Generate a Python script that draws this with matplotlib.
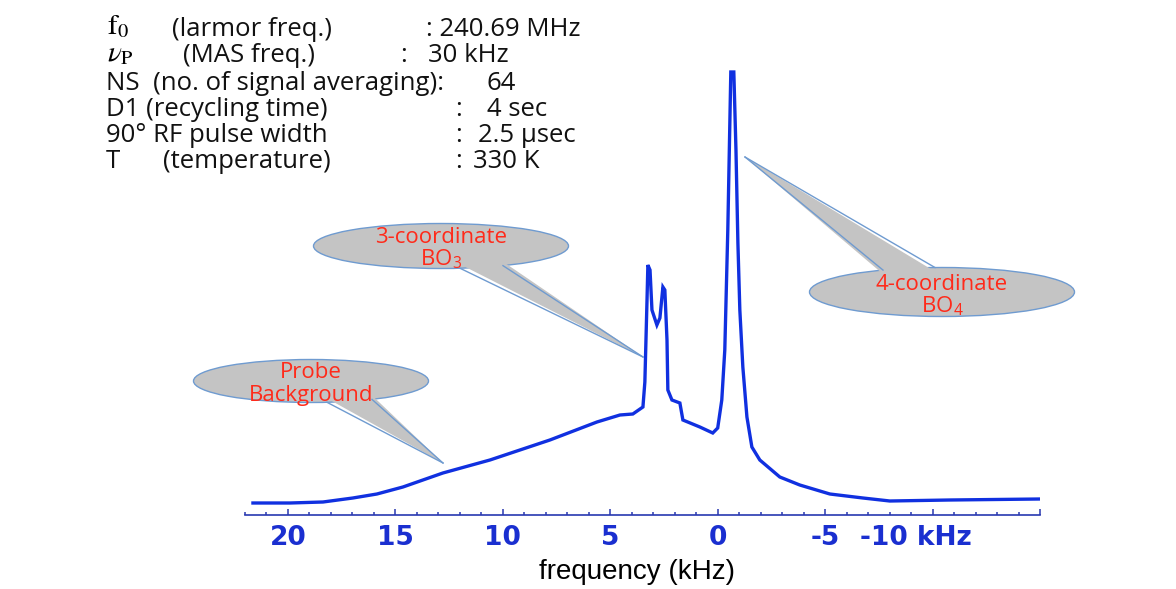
import numpy as np
import matplotlib
matplotlib.use("Agg")
import matplotlib.pyplot as plt
from matplotlib.patches import Ellipse, Polygon
from matplotlib.transforms import ScaledTranslation

plt.rcParams["font.family"] = ["Open Sans", "DejaVu Sans"]
plt.rcParams["mathtext.fontset"] = "stix"

# spectrum (kHz, arbitrary intensity)
freq_khz = [21.63, 19.91, 18.37, 16.98, 15.86, 14.65, 12.79, 10.60, 7.81, 5.62, 4.55,
            3.95, 3.48, 3.39, 3.29, 3.25, 3.15, 3.06, 2.83, 2.69, 2.55,
            2.46, 2.36, 2.32, 2.13, 1.76, 1.62, 0.83, 0.23, 0.0, -0.19,
            -0.33, -0.47, -0.61, -0.75, -0.85, -0.94, -1.03, -1.17, -1.36, -1.59,
            -1.96, -2.89, -3.82, -5.22, -6.76, -8.01, -10.8, -15.0]
intensity = [12, 12, 13, 17, 21, 28, 42, 55, 75, 93, 100,
             101, 108, 133, 215, 250, 245, 205, 190, 197, 228,
             225, 175, 125, 115, 112, 95, 88, 82, 87, 115,
             165, 285, 443, 443, 365, 272, 205, 148, 98, 68,
             55, 38, 30, 21, 17, 14, 15, 16]

major_ticks = [20, 15, 10, 5, 0, -5, -10, -15]
tick_labels = ["20", "15", "10", "5", "0", "-5", "", ""]
minor_ticks = list(range(22, -16, -1))

param_names = ["(larmor freq.)", "(MAS freq.)", "NS  (no. of signal averaging):",
               "D1 (recycling time)", "90° RF pulse width", "(temperature)"]
param_values = [": 240.69 MHz", "30 kHz", "64", "4 sec", "2.5 µsec", "330 K"]

W, H = 1176, 589
fig = plt.figure(figsize=(W / 100, H / 100), dpi=100)

ax = fig.add_axes([245 / W, 74 / H, 795 / W, 515 / H])
ax.plot(freq_khz, intensity, color="#1030e0", lw=2.4, solid_joinstyle="miter")
ax.set_xlim(22, -15)
ax.set_ylim(0, 515)
for s in ["left", "top", "right"]:
    ax.spines[s].set_visible(False)
ax.spines["bottom"].set_color("#2838b0")
ax.spines["bottom"].set_linewidth(1.2)
ax.set_yticks([])
ax.set_xticks(major_ticks)
ax.set_xticklabels(tick_labels)
ax.set_xticks(minor_ticks, minor=True)
ax.tick_params(axis="x", which="both", direction="in", color="#2838b0", width=1.1)
ax.tick_params(axis="x", which="major", length=4.5, pad=7,
               labelsize=19, labelcolor="#1a2fd0")
ax.tick_params(axis="x", which="minor", length=2.5)
tick_font = ["DejaVu Sans"]
for lbl in ax.get_xticklabels():
    lbl.set_fontweight("bold")
    lbl.set_family(tick_font)
ax.text(-6.6, 0, "-10 kHz",
        transform=ax.get_xaxis_transform() + ScaledTranslation(0, -7 / 72, fig.dpi_scale_trans),
        ha="left", va="top", fontsize=19, fontweight="bold", color="#1a2fd0",
        family=tick_font)
ax.patch.set_alpha(0)

# overlay in pixel coordinates for the header and the callouts
ov = fig.add_axes([0, 0, 1, 1])
ov.set_xlim(0, W)
ov.set_ylim(H, 0)
ov.axis("off")
ov.patch.set_alpha(0)

fig.text(637 / W, 1 - 572 / H, "frequency (kHz)", ha="center", va="center",
         fontsize=20, color="black", family=["Liberation Sans", "DejaVu Sans"])

row_y = [29, 56, 83, 109, 136, 162]
hdr = dict(fontsize=18.5, color="#111111", va="center", ha="left")
ov.text(107, row_y[0] - 2, r"$\mathrm{f}_0$", fontsize=21, va="center", ha="left")
ov.text(107, row_y[1] - 2, r"$\nu_\mathrm{P}$", fontsize=21, va="center", ha="left")
ov.text(172, row_y[0], param_names[0], **hdr)
ov.text(426, row_y[0], param_values[0], **hdr)
ov.text(183, row_y[1], param_names[1], **hdr)
ov.text(400, row_y[1], ":", **hdr)
ov.text(428, row_y[1], param_values[1], **hdr)
ov.text(106, row_y[2], param_names[2], **hdr)
ov.text(487, row_y[2], param_values[2], **hdr)
ov.text(106, row_y[3], param_names[3], **hdr)
ov.text(455, row_y[3], ":", **hdr)
ov.text(487, row_y[3], param_values[3], **hdr)
ov.text(106, row_y[4], param_names[4], **hdr)
ov.text(455, row_y[4], ":", **hdr)
ov.text(478, row_y[4], param_values[4], **hdr)
ov.text(106, row_y[5], "T", **hdr)
ov.text(163, row_y[5], param_names[5], **hdr)
ov.text(455, row_y[5], ":", **hdr)
ov.text(473, row_y[5], param_values[5], **hdr)


def callout(cx, cy, w, h, bx, tip, lines, dy=21, shift=3):
    fill, edge = "#c4c4c4", "#6f9bd0"
    ov.add_patch(Ellipse((cx, cy), w, h, fc=fill, ec=edge, lw=1.0, zorder=3))
    sign = 1 if tip[1] > cy else -1
    edge_pts, in_pts = [], []
    for x in bx:
        ye = cy + sign * (h / 2) * np.sqrt(1 - ((x - cx) / (w / 2)) ** 2)
        edge_pts.append((x, ye))
        in_pts.append((x, ye - sign * 4))
    ov.add_patch(Polygon([in_pts[0], tip, in_pts[1]], closed=True,
                         fc=fill, ec="none", zorder=4))
    for p in edge_pts:
        ov.plot([p[0], tip[0]], [p[1], tip[1]], color=edge, lw=1.0, zorder=4)
    y0 = cy + shift - dy / 2 * (len(lines) - 1)
    for i, t in enumerate(lines):
        ov.text(cx, y0 + i * dy, t, ha="center", va="center", fontsize=16,
                color="#ff2a1a", zorder=5)


callout(441, 246, 255, 45, [460, 503], (643, 357),
        ["3-coordinate", r"BO$_\mathregular{3}$"], shift=2)
callout(311, 381, 235, 43, [327, 372], (443, 463),
        ["Probe", "Background"], dy=22, shift=3)
callout(942, 292, 265, 49, [883, 935], (745, 157),
        ["4-coordinate", r"BO$_\mathregular{4}$"], shift=3)

fig.savefig("out.png", dpi=100)
